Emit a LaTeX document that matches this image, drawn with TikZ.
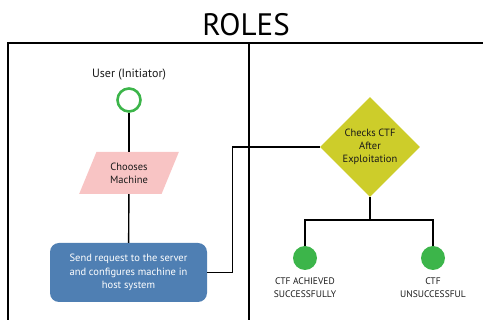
\documentclass[tikz,border=0pt]{standalone}
\usepackage{fontspec}
\setmainfont{PT Sans}
\usepackage{tikz}
\usetikzlibrary{shapes.geometric, positioning}

\definecolor{rolegreen}{RGB}{60,181,74}
\definecolor{rolepink}{RGB}{248,196,196}
\definecolor{roleblue}{RGB}{79,127,179}
\definecolor{roleyellow}{RGB}{205,205,42}

\tikzset{
  link/.style={line width=1.4pt, black},
  startnode/.style={circle, draw=rolegreen, line width=2.6pt, minimum size=23pt, inner sep=0pt},
  endnode/.style={circle, fill=rolegreen, minimum size=24pt, inner sep=0pt},
  iobox/.style={trapezium, trapezium left angle=64, trapezium right angle=116,
    trapezium stretches=true, fill=rolepink, minimum width=100pt, minimum height=42pt,
    inner sep=0pt, align=center, font=\fontsize{10.5}{13}\selectfont, text=black!90},
  procbox/.style={rectangle, rounded corners=9pt, fill=roleblue, minimum width=157pt,
    minimum height=59pt, align=center, text=white, font=\fontsize{10.5}{13.3}\selectfont},
  decision/.style={diamond, fill=roleyellow, minimum width=100pt, minimum height=100pt,
    inner sep=0pt, align=center, font=\fontsize{10.5}{13.3}\selectfont, text=black!90},
  caption/.style={align=center, font=\fontsize{9.5}{13}\selectfont, text=black!90}
}

\begin{document}
\begin{tikzpicture}[x=1pt, y=-1pt]
  \useasboundingbox (0,0) rectangle (483,320);

  % frame
  \node (title) at (246,25) {\fontsize{31}{34}\selectfont ROLES};
  \draw[link] (8,320) -- (8,43) -- (483,43);
  \draw[link] (249,43) -- (249,320);

  % user lane
  \node[font=\fontsize{12}{14}\selectfont, text=black!90] (user) at (129,75) {User (Initiator)};
  \node[startnode] (start) at (129,100) {};
  \node[iobox] (choose) at (129,173) {Chooses\\Machine};
  \node[procbox] (send) at (128.5,272.5) {Send request to the server\\and configures machine in\\host system};

  % server lane
  \node[decision] (check) at (370,147) {Checks CTF\\After\\Exploitation};
  \coordinate (split) at (370,220);
  \node[endnode] (ok) at (305,258) {};
  \node[endnode] (fail) at (433,258) {};
  \node[caption, below=4pt of ok] (oktext) {CTF ACHIEVED\\SUCCESSFULLY};
  \node[caption, below=4pt of fail] (failtext) {CTF\\UNSUCCESSFUL};

  \draw[link] (start) -- (choose);
  \draw[link] (choose) -- (send);
  \draw[link] (send.east) -- ++(25,0) |- (check.west);
  \draw[link] (check.south) -- (split);
  \draw[link] (ok) |- (split) -| (fail);
\end{tikzpicture}
\end{document}
